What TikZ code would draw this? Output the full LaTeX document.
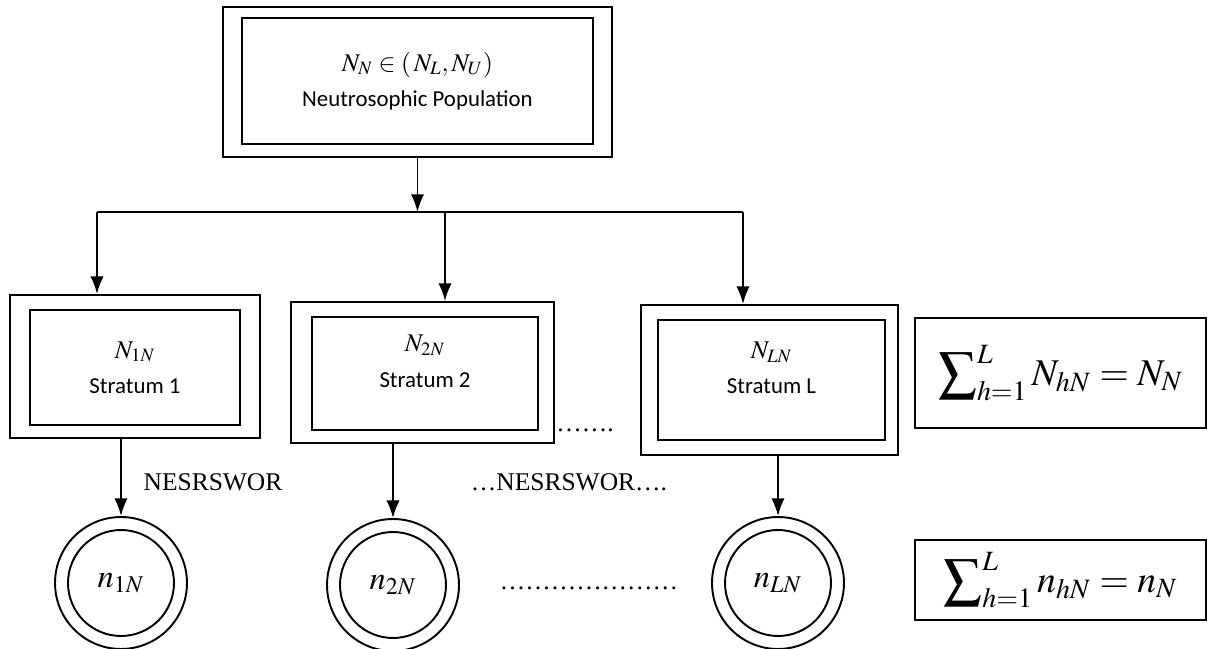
\documentclass[tikz,border=0pt]{standalone}
\usepackage{mathptmx}
\usepackage{fontspec}
\setmainfont{Liberation Serif}
\newfontfamily\calibri{Carlito}
\usetikzlibrary{arrows.meta}
\tikzstyle{outbox}=[rectangle, draw, line width=1.1pt, inner sep=0pt]
\tikzstyle{inbox}=[rectangle, draw, line width=1.1pt, inner sep=0pt, align=center, font=\calibri\fontsize{13}{20}\selectfont]
\tikzstyle{outcirc}=[circle, draw, line width=1.1pt, inner sep=0pt]
\tikzstyle{incirc}=[circle, draw, line width=1.1pt, inner sep=0pt, font=\fontsize{18.5}{22}\selectfont]
\tikzstyle{sumbox}=[rectangle, draw, line width=1.1pt, inner sep=0pt, font=\fontsize{21.5}{25}\selectfont]
\tikzstyle{edge}=[line width=1.1pt, -{Latex[length=10pt, width=7.5pt]}]
\tikzstyle{lbl}=[font=\fontsize{14.5}{16}\selectfont]
\newcommand{\mth}[1]{{\fontsize{14.5}{18}\selectfont$#1$}}

\begin{document}
\begin{tikzpicture}[x=0.02cm, y=-0.02cm]
	\useasboundingbox (0,0) rectangle (1208,649);
	% population
	\draw (417.5,82) node[outbox, minimum width=7.78cm, minimum height=3cm] (popout) {};
	\draw (417.5,81) node[inbox, minimum width=7.02cm, minimum height=2.52cm] (pop) {\mth{N_N \in \left(\, N_L, N_U \right)}\\ Neutrosophic Population};
	% strata
	\draw (135,366.5) node[outbox, minimum width=5cm, minimum height=2.86cm] (s1out) {};
	\draw (135,367.5) node[inbox, minimum width=4.2cm, minimum height=2.3cm] (s1) {\mth{N_{1N}}\\ Stratum 1};
	\draw (422.5,372.5) node[outbox, minimum width=5.26cm, minimum height=2.82cm] (s2out) {};
	\draw (425,373.5) node[inbox, minimum width=4.52cm, minimum height=2.26cm, text depth=14pt] (s2) {\mth{N_{2N}}\\ Stratum 2};
	\draw (769.5,380) node[outbox, minimum width=5.14cm, minimum height=3cm] (sLout) {};
	\draw (771.5,380) node[inbox, minimum width=4.54cm, minimum height=2.4cm, text depth=14pt] (sL) {\mth{N_{LN}}\\ Stratum L};
	\draw (1060.5,373) node[sumbox, minimum width=5.82cm, minimum height=2.2cm] (sumN) {$\displaystyle\sum\nolimits_{h=1}^{L} N_{hN} = N_N$};
	% samples
	\draw (121,583) node[outcirc, minimum size=2.64cm] (c1out) {};
	\draw (121,583) node[incirc, minimum size=2.12cm] (c1) {$n_{1N}$};
	\draw (393,585) node[outcirc, minimum size=2.64cm] (c2out) {};
	\draw (393,585) node[incirc, minimum size=2.12cm] (c2) {$n_{2N}$};
	\draw (778,583) node[outcirc, minimum size=2.64cm] (cLout) {};
	\draw (778,583) node[incirc, minimum size=2.12cm] (cL) {$n_{LN}$};
	\draw (1060.5,580) node[sumbox, minimum width=5.82cm, minimum height=1.6cm] (sumn) {$\displaystyle\sum\nolimits_{h=1}^{L} n_{hN} = n_N$};
	% labels
	\draw (213,482) node[lbl] (w1) {NESRSWOR};
	\draw (569,482) node[lbl] (w2) {…NESRSWOR….};
	\draw (585,430) node[lbl] (d1) {…….};
	\draw (589,588) node[lbl] (d2) {…………………};
	% connectors
	\coordinate (j0) at (417.5,212);
	\coordinate (j1) at (97,212);
	\coordinate (j2) at (445,212);
	\coordinate (j3) at (743,212);
	\draw[edge] (popout.south) -- (j0);
	\draw[line width=1.1pt] (j1) -- (j3);
	\draw[edge] (j1) -- (j1 |- s1out.north);
	\draw[edge] (j2) -- (j2 |- s2out.north);
	\draw[edge] (j3) -- (j3 |- sLout.north);
	\draw[edge] (c1out.north |- s1out.south) -- (c1out.north);
	\draw[edge] (c2out.north |- s2out.south) -- (c2out.north);
	\draw[edge] (cLout.north |- sLout.south) -- (cLout.north);
\end{tikzpicture}
\end{document}
